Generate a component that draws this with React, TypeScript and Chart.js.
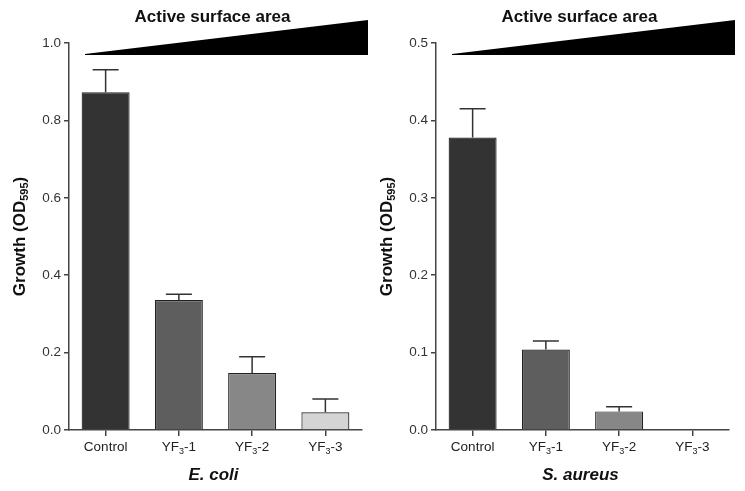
import React, { useEffect, useRef } from "react";
import { Chart, registerables } from "chart.js";

Chart.register(...registerables);

const FONT = "'Liberation Sans', Arial, Helvetica, sans-serif";

// Data
const categories = ["Control", "YF_3-1", "YF_3-2", "YF_3-3"];
const barColors = ["#333333", "#5e5e5e", "#878787", "#d4d4d4"];

const ecoliMeans = [0.873, 0.336, 0.147, 0.046];
const ecoliErrors = [0.058, 0.015, 0.042, 0.034];
const ecoliTicks = [0, 0.2, 0.4, 0.6, 0.8, 1.0];

const aureusMeans = [0.378, 0.104, 0.024, 0.0];
const aureusErrors = [0.037, 0.011, 0.006, 0.0];
const aureusTicks = [0, 0.1, 0.2, 0.3, 0.4, 0.5];

const topLabel = "Active surface area";
const yTitle = "Growth (OD_{595})";
const ecoliTitle = "E. coli";
const aureusTitle = "S. aureus";

type Seg = { t: string; sub: boolean };

function parseRich(text: string): Seg[] {
  const segs: Seg[] = [];
  const re = /_\{([^}]*)\}|_(.)/g;
  let last = 0;
  let m: RegExpExecArray | null;
  while ((m = re.exec(text))) {
    if (m.index > last) segs.push({ t: text.slice(last, m.index), sub: false });
    segs.push({ t: m[1] !== undefined ? m[1] : m[2], sub: true });
    last = m.index + m[0].length;
  }
  if (last < text.length) segs.push({ t: text.slice(last), sub: false });
  return segs;
}

function drawRich(
  ctx: CanvasRenderingContext2D,
  text: string,
  x: number,
  y: number,
  size: number,
  weight: string,
  color: string,
  subScale = 0.65,
  rotate = false
) {
  const segs = parseRich(text);
  const mainFont = `${weight} ${size}px ${FONT}`;
  const subFont = `${weight} ${Math.round(size * subScale)}px ${FONT}`;
  ctx.save();
  ctx.translate(x, y);
  if (rotate) ctx.rotate(-Math.PI / 2);
  ctx.fillStyle = color;
  ctx.textBaseline = "middle";
  ctx.textAlign = "left";
  let total = 0;
  const widths = segs.map((s) => {
    ctx.font = s.sub ? subFont : mainFont;
    const w = ctx.measureText(s.t).width;
    total += w;
    return w;
  });
  let cx = -total / 2;
  segs.forEach((s, i) => {
    ctx.font = s.sub ? subFont : mainFont;
    ctx.fillText(s.t, cx, s.sub ? size * 0.32 : 0);
    cx += widths[i];
  });
  ctx.restore();
}

function makeDecor(errors: number[], means: number[], xTitle: string) {
  return {
    id: "decor",
    afterDatasetsDraw(chart: any) {
      const ctx = chart.ctx as CanvasRenderingContext2D;
      const yScale = chart.scales.y;
      const meta = chart.getDatasetMeta(0);
      ctx.save();
      ctx.strokeStyle = "#333";
      ctx.lineWidth = 1.5;
      meta.data.forEach((el: any, i: number) => {
        if (!errors[i]) return;
        const yTop = yScale.getPixelForValue(means[i] + errors[i]);
        ctx.beginPath();
        ctx.moveTo(el.x, el.y);
        ctx.lineTo(el.x, yTop);
        ctx.moveTo(el.x - 13, yTop);
        ctx.lineTo(el.x + 13, yTop);
        ctx.stroke();
      });
      ctx.restore();
    },
    afterDraw(chart: any) {
      const ctx = chart.ctx as CanvasRenderingContext2D;
      const area = chart.chartArea;
      const xScale = chart.scales.x;
      // x tick labels
      categories.forEach((c, i) => {
        const x = xScale.getPixelForValue(i);
        drawRich(ctx, c, x, area.bottom + 17, 13.5, "normal", "#222", 0.65);
      });
      // x title
      const cxMid = (area.left + area.right) / 2;
      ctx.save();
      ctx.font = `italic bold 17px ${FONT}`;
      ctx.fillStyle = "#111";
      ctx.textAlign = "center";
      ctx.textBaseline = "middle";
      ctx.fillText(xTitle, cxMid - 2, area.bottom + 45);
      ctx.restore();
      // y title
      drawRich(ctx, yTitle, area.left - 49, (area.top + area.bottom) / 2, 17, "bold", "#111", 0.62, true);
      // top label
      ctx.save();
      ctx.font = `bold 17px ${FONT}`;
      ctx.fillStyle = "#111";
      ctx.textAlign = "center";
      ctx.textBaseline = "middle";
      ctx.fillText(topLabel, cxMid - 3, 17);
      // wedge
      ctx.fillStyle = "#000";
      ctx.beginPath();
      ctx.moveTo(area.left + 16, area.top + 11);
      ctx.lineTo(area.right + 6, 20);
      ctx.lineTo(area.right + 6, area.top + 12);
      ctx.lineTo(area.left + 16, area.top + 12);
      ctx.closePath();
      ctx.fill();
      ctx.restore();
    },
  };
}

function Panel(props: {
  means: number[];
  errors: number[];
  ticks: number[];
  xTitle: string;
  width: number;
  axisLeft: number;
  padRight: number;
  left: number;
}) {
  const ref = useRef<HTMLCanvasElement | null>(null);
  useEffect(() => {
    if (!ref.current) return;
    const { means, errors, ticks, xTitle, axisLeft, padRight } = props;
    const chart = new Chart(ref.current, {
      type: "bar",
      data: {
        labels: categories,
        datasets: [
          {
            data: means,
            backgroundColor: barColors,
            borderColor: "#222",
            borderWidth: 1.2,
            barPercentage: 0.655,
            categoryPercentage: 1,
          },
        ],
      },
      options: {
        responsive: false,
        animation: false,
        devicePixelRatio: 1,
        layout: { padding: { top: 43, right: padRight, left: 0, bottom: 0 } },
        plugins: { legend: { display: false }, tooltip: { enabled: false } },
        scales: {
          x: {
            grid: {
              display: true,
              offset: false,
              drawOnChartArea: false,
              drawTicks: true,
              tickLength: 6,
              color: "#444",
              lineWidth: 1.5,
            },
            border: { display: true, color: "#444", width: 1.5 },
            ticks: { display: false },
            afterFit: (s: any) => {
              s.height = 61;
            },
          },
          y: {
            min: ticks[0],
            max: ticks[ticks.length - 1],
            afterBuildTicks: (s: any) => {
              s.ticks = ticks.map((v) => ({ value: v }));
            },
            ticks: {
              callback: (v: any) => Number(v).toFixed(1),
              font: { family: FONT, size: 13.5 },
              color: "#333",
              padding: 3,
            },
            grid: {
              drawOnChartArea: false,
              drawTicks: true,
              tickLength: 5,
              color: "#444",
              lineWidth: 1.5,
            },
            border: { display: true, color: "#444", width: 1.5 },
            afterFit: (s: any) => {
              s.width = axisLeft;
            },
          },
        },
      } as any,
      plugins: [makeDecor(errors, means, xTitle)],
    });
    return () => chart.destroy();
  }, []);
  return (
    <canvas
      ref={ref}
      width={props.width}
      height={491}
      style={{ position: "absolute", left: props.left, top: 0, width: props.width, height: 491 }}
    />
  );
}

export default function App() {
  return (
    <div style={{ position: "absolute", left: 0, top: 0, width: 745, height: 491, background: "#fff" }}>
      <Panel means={ecoliMeans} errors={ecoliErrors} ticks={ecoliTicks} xTitle={ecoliTitle} width={372} axisLeft={69} padRight={10} left={0} />
      <Panel means={aureusMeans} errors={aureusErrors} ticks={aureusTicks} xTitle={aureusTitle} width={373} axisLeft={64} padRight={16} left={372} />
    </div>
  );
}
